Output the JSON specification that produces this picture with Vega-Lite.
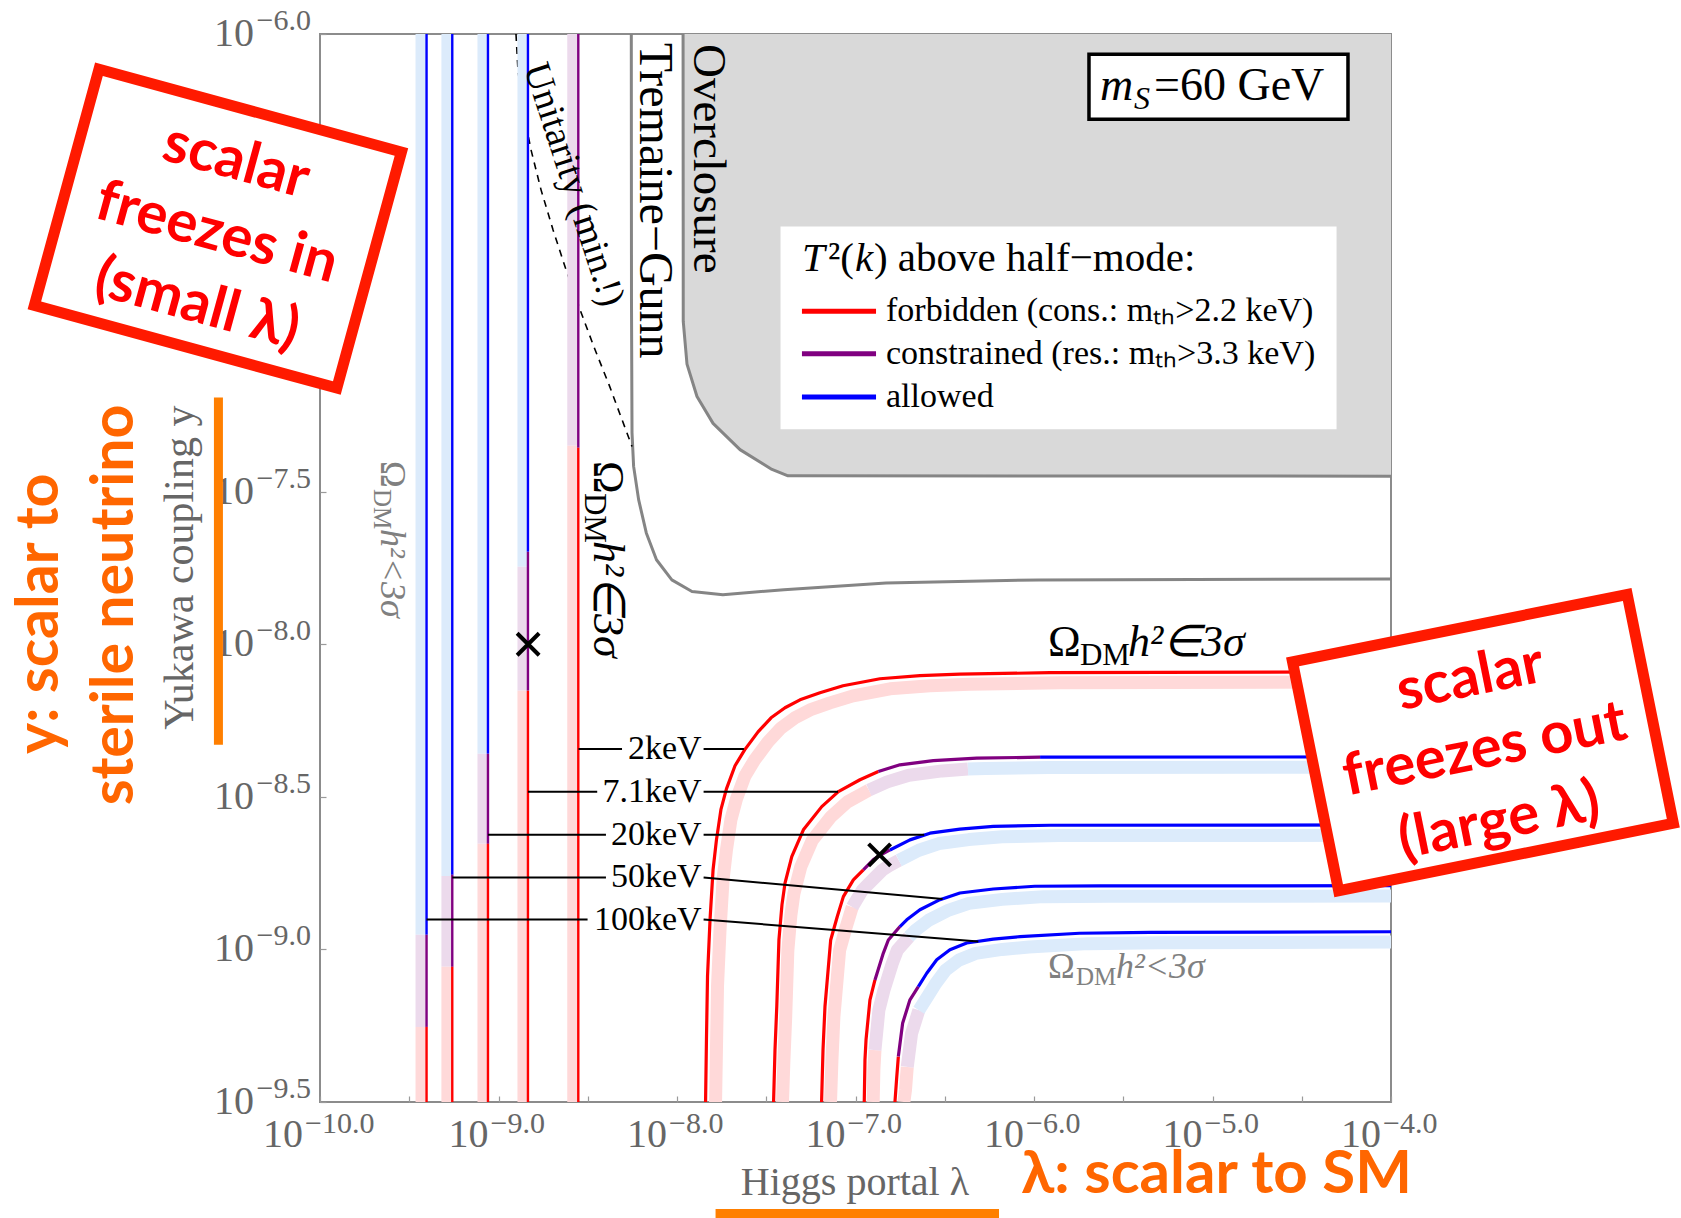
{
  "$schema": "https://vega.github.io/schema/vega-lite/v6.json",
  "width": 1071,
  "height": 1068,
  "autosize": {"type": "none"},
  "padding": {"left": 320, "top": 34, "right": 290, "bottom": 116},
  "background": "white",
  "config": {
    "view": {"stroke": "#8c8c8c", "strokeWidth": 2},
    "text": {"font": "Liberation Serif"}
  },
  "encoding": {
    "x": {
      "field": "lx", "type": "quantitative",
      "scale": {"domain": [-10, -4], "nice": false, "zero": false},
      "axis": {"values": [-10, -9.5, -9, -8.5, -8, -7.5, -7, -6.5, -6, -5.5, -5, -4.5, -4], "labels": false, "title": null, "domain": false, "grid": false, "tickSize": -6, "tickColor": "#9a9a9a", "tickWidth": 1.2}
    },
    "y": {
      "field": "ly", "type": "quantitative",
      "scale": {"domain": [-9.5, -6], "nice": false, "zero": false},
      "axis": {"values": [-9.5, -9, -8.5, -8, -7.5, -7, -6.5, -6], "labels": false, "title": null, "domain": false, "grid": false, "tickSize": -6, "tickColor": "#9a9a9a", "tickWidth": 1.2}
    }
  },
  "datasets": {
    "overclosure": [
      {"lx": -7.966, "ly": -6.0}, {"lx": -7.965, "ly": -6.942}, {"lx": -7.944, "ly": -7.082},
      {"lx": -7.888, "ly": -7.188}, {"lx": -7.798, "ly": -7.276}, {"lx": -7.647, "ly": -7.362},
      {"lx": -7.468, "ly": -7.427}, {"lx": -7.378, "ly": -7.448}, {"lx": -4.0, "ly": -7.449}
    ],
    "tremaine_gunn": [
      {"lx": -8.256, "ly": -6.0}, {"lx": -8.255, "ly": -6.871}, {"lx": -8.252, "ly": -7.307},
      {"lx": -8.243, "ly": -7.417}, {"lx": -8.215, "ly": -7.526}, {"lx": -8.172, "ly": -7.635},
      {"lx": -8.115, "ly": -7.723}, {"lx": -8.029, "ly": -7.789}, {"lx": -7.916, "ly": -7.827},
      {"lx": -7.743, "ly": -7.838}, {"lx": -7.401, "ly": -7.821}, {"lx": -6.829, "ly": -7.799},
      {"lx": -5.972, "ly": -7.789}, {"lx": -4.0, "ly": -7.786}
    ],
    "unitarity": [
      {"lx": -8.902, "ly": -6.0}, {"lx": -8.891, "ly": -6.117}, {"lx": -8.863, "ly": -6.248},
      {"lx": -8.818, "ly": -6.379}, {"lx": -8.762, "ly": -6.510}, {"lx": -8.695, "ly": -6.641},
      {"lx": -8.622, "ly": -6.772}, {"lx": -8.543, "ly": -6.904}, {"lx": -8.459, "ly": -7.035},
      {"lx": -8.381, "ly": -7.149}, {"lx": -8.308, "ly": -7.264}, {"lx": -8.252, "ly": -7.352}
    ],
    "freezein_lines": [
      {"m": "100keV", "s": "allowed", "lx": -9.403, "ly": -6.0, "ly2": -8.952},
      {"m": "100keV", "s": "constrained", "lx": -9.403, "ly": -8.952, "ly2": -9.254},
      {"m": "100keV", "s": "forbidden", "lx": -9.403, "ly": -9.254, "ly2": -9.5},
      {"m": "50keV", "s": "allowed", "lx": -9.259, "ly": -6.0, "ly2": -8.755},
      {"m": "50keV", "s": "constrained", "lx": -9.259, "ly": -8.755, "ly2": -9.057},
      {"m": "50keV", "s": "forbidden", "lx": -9.259, "ly": -9.057, "ly2": -9.5},
      {"m": "20keV", "s": "allowed", "lx": -9.059, "ly": -6.0, "ly2": -8.359},
      {"m": "20keV", "s": "constrained", "lx": -9.059, "ly": -8.359, "ly2": -8.654},
      {"m": "20keV", "s": "forbidden", "lx": -9.059, "ly": -8.654, "ly2": -9.5},
      {"m": "7.1keV", "s": "allowed", "lx": -8.835, "ly": -6.0, "ly2": -7.697},
      {"m": "7.1keV", "s": "constrained", "lx": -8.835, "ly": -7.697, "ly2": -8.152},
      {"m": "7.1keV", "s": "forbidden", "lx": -8.835, "ly": -8.152, "ly2": -9.5},
      {"m": "2keV", "s": "constrained", "lx": -8.553, "ly": -6.0, "ly2": -7.356},
      {"m": "2keV", "s": "forbidden", "lx": -8.553, "ly": -7.356, "ly2": -9.5}
    ],
    "freezein_bands": [
      {"m": "100keV", "s": "allowed", "lx": -9.434, "ly": -6.0, "ly2": -8.952},
      {"m": "100keV", "s": "constrained", "lx": -9.434, "ly": -8.952, "ly2": -9.254},
      {"m": "100keV", "s": "forbidden", "lx": -9.434, "ly": -9.254, "ly2": -9.5},
      {"m": "50keV", "s": "allowed", "lx": -9.289, "ly": -6.0, "ly2": -8.759},
      {"m": "50keV", "s": "constrained", "lx": -9.289, "ly": -8.759, "ly2": -9.057},
      {"m": "50keV", "s": "forbidden", "lx": -9.289, "ly": -9.057, "ly2": -9.5},
      {"m": "20keV", "s": "allowed", "lx": -9.087, "ly": -6.0, "ly2": -8.359},
      {"m": "20keV", "s": "constrained", "lx": -9.087, "ly": -8.359, "ly2": -8.654},
      {"m": "20keV", "s": "forbidden", "lx": -9.087, "ly": -8.654, "ly2": -9.5},
      {"m": "7.1keV", "s": "allowed", "lx": -8.863, "ly": -6.0, "ly2": -7.746},
      {"m": "7.1keV", "s": "constrained", "lx": -8.863, "ly": -7.746, "ly2": -8.152},
      {"m": "7.1keV", "s": "forbidden", "lx": -8.863, "ly": -8.152, "ly2": -9.5},
      {"m": "2keV", "s": "constrained", "lx": -8.584, "ly": -6.0, "ly2": -7.349},
      {"m": "2keV", "s": "forbidden", "lx": -8.584, "ly": -7.349, "ly2": -9.5}
    ],
    "freezeout_lines": [
      {"g": "2f", "s": "forbidden", "lx": -7.840, "ly": -9.5},
      {"g": "2f", "s": "forbidden", "lx": -7.835, "ly": -9.296},
      {"g": "2f", "s": "forbidden", "lx": -7.829, "ly": -9.087},
      {"g": "2f", "s": "forbidden", "lx": -7.815, "ly": -8.903},
      {"g": "2f", "s": "forbidden", "lx": -7.798, "ly": -8.739},
      {"g": "2f", "s": "forbidden", "lx": -7.779, "ly": -8.641},
      {"g": "2f", "s": "forbidden", "lx": -7.754, "ly": -8.542},
      {"g": "2f", "s": "forbidden", "lx": -7.723, "ly": -8.474},
      {"g": "2f", "s": "forbidden", "lx": -7.675, "ly": -8.398},
      {"g": "2f", "s": "forbidden", "lx": -7.621, "ly": -8.346},
      {"g": "2f", "s": "forbidden", "lx": -7.546, "ly": -8.287},
      {"g": "2f", "s": "forbidden", "lx": -7.473, "ly": -8.241},
      {"g": "2f", "s": "forbidden", "lx": -7.395, "ly": -8.208},
      {"g": "2f", "s": "forbidden", "lx": -7.311, "ly": -8.182},
      {"g": "2f", "s": "forbidden", "lx": -7.199, "ly": -8.159},
      {"g": "2f", "s": "forbidden", "lx": -7.070, "ly": -8.136},
      {"g": "2f", "s": "forbidden", "lx": -6.863, "ly": -8.113},
      {"g": "2f", "s": "forbidden", "lx": -6.639, "ly": -8.103},
      {"g": "2f", "s": "forbidden", "lx": -6.415, "ly": -8.098},
      {"g": "2f", "s": "forbidden", "lx": -5.910, "ly": -8.093},
      {"g": "2f", "s": "forbidden", "lx": -4.0, "ly": -8.090},
      {"g": "7f", "s": "forbidden", "lx": -7.459, "ly": -9.5},
      {"g": "7f", "s": "forbidden", "lx": -7.451, "ly": -9.329},
      {"g": "7f", "s": "forbidden", "lx": -7.441, "ly": -9.187},
      {"g": "7f", "s": "forbidden", "lx": -7.429, "ly": -8.969},
      {"g": "7f", "s": "forbidden", "lx": -7.412, "ly": -8.854},
      {"g": "7f", "s": "forbidden", "lx": -7.395, "ly": -8.783},
      {"g": "7f", "s": "forbidden", "lx": -7.357, "ly": -8.696},
      {"g": "7f", "s": "forbidden", "lx": -7.292, "ly": -8.608},
      {"g": "7f", "s": "forbidden", "lx": -7.189, "ly": -8.532},
      {"g": "7f", "s": "forbidden", "lx": -7.096, "ly": -8.483},
      {"g": "7f", "s": "forbidden", "lx": -6.975, "ly": -8.444},
      {"g": "7f", "s": "forbidden", "lx": -6.872, "ly": -8.417},
      {"g": "7c", "s": "constrained", "lx": -6.872, "ly": -8.417},
      {"g": "7c", "s": "constrained", "lx": -6.751, "ly": -8.395},
      {"g": "7c", "s": "constrained", "lx": -6.564, "ly": -8.381},
      {"g": "7c", "s": "constrained", "lx": -6.321, "ly": -8.373},
      {"g": "7c", "s": "constrained", "lx": -5.966, "ly": -8.370},
      {"g": "7a", "s": "allowed", "lx": -5.966, "ly": -8.370},
      {"g": "7a", "s": "allowed", "lx": -4.0, "ly": -8.369},
      {"g": "20f", "s": "forbidden", "lx": -7.190, "ly": -9.5},
      {"g": "20f", "s": "forbidden", "lx": -7.182, "ly": -9.329},
      {"g": "20f", "s": "forbidden", "lx": -7.171, "ly": -9.187},
      {"g": "20f", "s": "forbidden", "lx": -7.139, "ly": -8.969},
      {"g": "20f", "s": "forbidden", "lx": -7.102, "ly": -8.892},
      {"g": "20f", "s": "forbidden", "lx": -7.068, "ly": -8.827},
      {"g": "20f", "s": "forbidden", "lx": -7.012, "ly": -8.772},
      {"g": "20f", "s": "forbidden", "lx": -6.956, "ly": -8.739},
      {"g": "20c", "s": "constrained", "lx": -6.956, "ly": -8.739},
      {"g": "20c", "s": "constrained", "lx": -6.900, "ly": -8.706},
      {"g": "20c", "s": "constrained", "lx": -6.863, "ly": -8.692},
      {"g": "20c", "s": "constrained", "lx": -6.807, "ly": -8.674},
      {"g": "20a", "s": "allowed", "lx": -6.807, "ly": -8.674},
      {"g": "20a", "s": "allowed", "lx": -6.695, "ly": -8.641},
      {"g": "20a", "s": "allowed", "lx": -6.583, "ly": -8.619},
      {"g": "20a", "s": "allowed", "lx": -6.415, "ly": -8.606},
      {"g": "20a", "s": "allowed", "lx": -6.228, "ly": -8.597},
      {"g": "20a", "s": "allowed", "lx": -5.910, "ly": -8.593},
      {"g": "20a", "s": "allowed", "lx": -4.0, "ly": -8.592},
      {"g": "50f", "s": "forbidden", "lx": -6.951, "ly": -9.5},
      {"g": "50f", "s": "forbidden", "lx": -6.947, "ly": -9.362},
      {"g": "50f", "s": "forbidden", "lx": -6.941, "ly": -9.296},
      {"g": "50f", "s": "forbidden", "lx": -6.919, "ly": -9.165},
      {"g": "50f", "s": "forbidden", "lx": -6.891, "ly": -9.100},
      {"g": "50c", "s": "constrained", "lx": -6.891, "ly": -9.100},
      {"g": "50c", "s": "constrained", "lx": -6.844, "ly": -9.012},
      {"g": "50c", "s": "constrained", "lx": -6.816, "ly": -8.969},
      {"g": "50c", "s": "constrained", "lx": -6.751, "ly": -8.925},
      {"g": "50a", "s": "allowed", "lx": -6.751, "ly": -8.925},
      {"g": "50a", "s": "allowed", "lx": -6.713, "ly": -8.903},
      {"g": "50a", "s": "allowed", "lx": -6.639, "ly": -8.870},
      {"g": "50a", "s": "allowed", "lx": -6.527, "ly": -8.837},
      {"g": "50a", "s": "allowed", "lx": -6.415, "ly": -8.815},
      {"g": "50a", "s": "allowed", "lx": -6.228, "ly": -8.802},
      {"g": "50a", "s": "allowed", "lx": -5.996, "ly": -8.793},
      {"g": "50a", "s": "allowed", "lx": -5.630, "ly": -8.792},
      {"g": "50a", "s": "allowed", "lx": -4.0, "ly": -8.791},
      {"g": "100f", "s": "forbidden", "lx": -6.779, "ly": -9.5},
      {"g": "100f", "s": "forbidden", "lx": -6.770, "ly": -9.427},
      {"g": "100f", "s": "forbidden", "lx": -6.760, "ly": -9.351},
      {"g": "100c", "s": "constrained", "lx": -6.760, "ly": -9.351},
      {"g": "100c", "s": "constrained", "lx": -6.736, "ly": -9.242},
      {"g": "100c", "s": "constrained", "lx": -6.695, "ly": -9.165},
      {"g": "100c", "s": "constrained", "lx": -6.648, "ly": -9.122},
      {"g": "100a", "s": "allowed", "lx": -6.648, "ly": -9.122},
      {"g": "100a", "s": "allowed", "lx": -6.601, "ly": -9.078},
      {"g": "100a", "s": "allowed", "lx": -6.545, "ly": -9.034},
      {"g": "100a", "s": "allowed", "lx": -6.471, "ly": -9.001},
      {"g": "100a", "s": "allowed", "lx": -6.377, "ly": -8.979},
      {"g": "100a", "s": "allowed", "lx": -6.228, "ly": -8.966},
      {"g": "100a", "s": "allowed", "lx": -6.078, "ly": -8.958},
      {"g": "100a", "s": "allowed", "lx": -5.745, "ly": -8.947},
      {"g": "100a", "s": "allowed", "lx": -5.350, "ly": -8.944},
      {"g": "100a", "s": "allowed", "lx": -4.0, "ly": -8.942}
    ],
    "freezeout_bands": [
      {"g": "2f", "s": "forbidden", "lx": -7.784, "ly": -9.5},
      {"g": "2f", "s": "forbidden", "lx": -7.779, "ly": -9.329},
      {"g": "2f", "s": "forbidden", "lx": -7.773, "ly": -9.120},
      {"g": "2f", "s": "forbidden", "lx": -7.759, "ly": -8.936},
      {"g": "2f", "s": "forbidden", "lx": -7.742, "ly": -8.772},
      {"g": "2f", "s": "forbidden", "lx": -7.723, "ly": -8.674},
      {"g": "2f", "s": "forbidden", "lx": -7.698, "ly": -8.575},
      {"g": "2f", "s": "forbidden", "lx": -7.667, "ly": -8.507},
      {"g": "2f", "s": "forbidden", "lx": -7.619, "ly": -8.431},
      {"g": "2f", "s": "forbidden", "lx": -7.565, "ly": -8.379},
      {"g": "2f", "s": "forbidden", "lx": -7.490, "ly": -8.320},
      {"g": "2f", "s": "forbidden", "lx": -7.417, "ly": -8.274},
      {"g": "2f", "s": "forbidden", "lx": -7.339, "ly": -8.241},
      {"g": "2f", "s": "forbidden", "lx": -7.255, "ly": -8.215},
      {"g": "2f", "s": "forbidden", "lx": -7.143, "ly": -8.192},
      {"g": "2f", "s": "forbidden", "lx": -7.014, "ly": -8.169},
      {"g": "2f", "s": "forbidden", "lx": -6.807, "ly": -8.146},
      {"g": "2f", "s": "forbidden", "lx": -6.583, "ly": -8.136},
      {"g": "2f", "s": "forbidden", "lx": -6.359, "ly": -8.131},
      {"g": "2f", "s": "forbidden", "lx": -5.854, "ly": -8.126},
      {"g": "2f", "s": "forbidden", "lx": -4.0, "ly": -8.123},
      {"g": "7f", "s": "forbidden", "lx": -7.409, "ly": -9.5},
      {"g": "7f", "s": "forbidden", "lx": -7.401, "ly": -9.363},
      {"g": "7f", "s": "forbidden", "lx": -7.391, "ly": -9.221},
      {"g": "7f", "s": "forbidden", "lx": -7.379, "ly": -9.003},
      {"g": "7f", "s": "forbidden", "lx": -7.362, "ly": -8.888},
      {"g": "7f", "s": "forbidden", "lx": -7.345, "ly": -8.817},
      {"g": "7f", "s": "forbidden", "lx": -7.307, "ly": -8.730},
      {"g": "7f", "s": "forbidden", "lx": -7.242, "ly": -8.642},
      {"g": "7f", "s": "forbidden", "lx": -7.139, "ly": -8.566},
      {"g": "7f", "s": "forbidden", "lx": -7.046, "ly": -8.517},
      {"g": "7f", "s": "forbidden", "lx": -6.925, "ly": -8.478},
      {"g": "7c", "s": "constrained", "lx": -6.925, "ly": -8.478},
      {"g": "7c", "s": "constrained", "lx": -6.822, "ly": -8.451},
      {"g": "7c", "s": "constrained", "lx": -6.701, "ly": -8.429},
      {"g": "7c", "s": "constrained", "lx": -6.514, "ly": -8.415},
      {"g": "7c", "s": "constrained", "lx": -6.370, "ly": -8.409},
      {"g": "7a", "s": "allowed", "lx": -6.370, "ly": -8.409},
      {"g": "7a", "s": "allowed", "lx": -6.271, "ly": -8.407},
      {"g": "7a", "s": "allowed", "lx": -5.916, "ly": -8.404},
      {"g": "7a", "s": "allowed", "lx": -4.0, "ly": -8.403},
      {"g": "20f", "s": "forbidden", "lx": -7.140, "ly": -9.5},
      {"g": "20f", "s": "forbidden", "lx": -7.132, "ly": -9.363},
      {"g": "20f", "s": "forbidden", "lx": -7.121, "ly": -9.221},
      {"g": "20f", "s": "forbidden", "lx": -7.089, "ly": -9.003},
      {"g": "20f", "s": "forbidden", "lx": -7.052, "ly": -8.926},
      {"g": "20f", "s": "forbidden", "lx": -7.018, "ly": -8.861},
      {"g": "20c", "s": "constrained", "lx": -7.018, "ly": -8.861},
      {"g": "20c", "s": "constrained", "lx": -6.962, "ly": -8.806},
      {"g": "20c", "s": "constrained", "lx": -6.906, "ly": -8.773},
      {"g": "20c", "s": "constrained", "lx": -6.850, "ly": -8.740},
      {"g": "20c", "s": "constrained", "lx": -6.813, "ly": -8.726},
      {"g": "20c", "s": "constrained", "lx": -6.757, "ly": -8.708},
      {"g": "20a", "s": "allowed", "lx": -6.757, "ly": -8.708},
      {"g": "20a", "s": "allowed", "lx": -6.645, "ly": -8.675},
      {"g": "20a", "s": "allowed", "lx": -6.533, "ly": -8.653},
      {"g": "20a", "s": "allowed", "lx": -6.365, "ly": -8.640},
      {"g": "20a", "s": "allowed", "lx": -6.178, "ly": -8.631},
      {"g": "20a", "s": "allowed", "lx": -5.860, "ly": -8.627},
      {"g": "20a", "s": "allowed", "lx": -4.0, "ly": -8.626},
      {"g": "50f", "s": "forbidden", "lx": -6.901, "ly": -9.5},
      {"g": "50f", "s": "forbidden", "lx": -6.897, "ly": -9.396},
      {"g": "50f", "s": "forbidden", "lx": -6.891, "ly": -9.330},
      {"g": "50c", "s": "constrained", "lx": -6.891, "ly": -9.330},
      {"g": "50c", "s": "constrained", "lx": -6.869, "ly": -9.199},
      {"g": "50c", "s": "constrained", "lx": -6.841, "ly": -9.134},
      {"g": "50c", "s": "constrained", "lx": -6.794, "ly": -9.046},
      {"g": "50c", "s": "constrained", "lx": -6.766, "ly": -9.003},
      {"g": "50c", "s": "constrained", "lx": -6.701, "ly": -8.959},
      {"g": "50a", "s": "allowed", "lx": -6.701, "ly": -8.959},
      {"g": "50a", "s": "allowed", "lx": -6.663, "ly": -8.937},
      {"g": "50a", "s": "allowed", "lx": -6.589, "ly": -8.904},
      {"g": "50a", "s": "allowed", "lx": -6.477, "ly": -8.871},
      {"g": "50a", "s": "allowed", "lx": -6.365, "ly": -8.849},
      {"g": "50a", "s": "allowed", "lx": -6.178, "ly": -8.836},
      {"g": "50a", "s": "allowed", "lx": -5.946, "ly": -8.827},
      {"g": "50a", "s": "allowed", "lx": -5.580, "ly": -8.826},
      {"g": "50a", "s": "allowed", "lx": -4.0, "ly": -8.825},
      {"g": "100f", "s": "forbidden", "lx": -6.729, "ly": -9.5},
      {"g": "100f", "s": "forbidden", "lx": -6.720, "ly": -9.461},
      {"g": "100f", "s": "forbidden", "lx": -6.710, "ly": -9.385},
      {"g": "100c", "s": "constrained", "lx": -6.710, "ly": -9.385},
      {"g": "100c", "s": "constrained", "lx": -6.686, "ly": -9.276},
      {"g": "100c", "s": "constrained", "lx": -6.645, "ly": -9.199},
      {"g": "100a", "s": "allowed", "lx": -6.645, "ly": -9.199},
      {"g": "100a", "s": "allowed", "lx": -6.598, "ly": -9.156},
      {"g": "100a", "s": "allowed", "lx": -6.551, "ly": -9.112},
      {"g": "100a", "s": "allowed", "lx": -6.495, "ly": -9.068},
      {"g": "100a", "s": "allowed", "lx": -6.421, "ly": -9.035},
      {"g": "100a", "s": "allowed", "lx": -6.327, "ly": -9.013},
      {"g": "100a", "s": "allowed", "lx": -6.178, "ly": -9.000},
      {"g": "100a", "s": "allowed", "lx": -6.028, "ly": -8.992},
      {"g": "100a", "s": "allowed", "lx": -5.695, "ly": -8.981},
      {"g": "100a", "s": "allowed", "lx": -5.300, "ly": -8.978},
      {"g": "100a", "s": "allowed", "lx": -4.0, "ly": -8.976}
    ],
    "connectors": [
      {"lx": -8.552, "ly": -8.343, "lx2": -8.308, "ly2": -8.343},
      {"lx": -7.851, "ly": -8.343, "lx2": -7.625, "ly2": -8.343},
      {"lx": -8.835, "ly": -8.483, "lx2": -8.447, "ly2": -8.483},
      {"lx": -7.851, "ly": -8.483, "lx2": -7.098, "ly2": -8.483},
      {"lx": -9.059, "ly": -8.624, "lx2": -8.398, "ly2": -8.624},
      {"lx": -7.851, "ly": -8.624, "lx2": -6.615, "ly2": -8.624},
      {"lx": -9.259, "ly": -8.764, "lx2": -8.398, "ly2": -8.764},
      {"lx": -7.851, "ly": -8.764, "lx2": -6.512, "ly2": -8.835},
      {"lx": -9.403, "ly": -8.902, "lx2": -8.501, "ly2": -8.902},
      {"lx": -7.851, "ly": -8.902, "lx2": -6.312, "ly2": -8.974}
    ],
    "mass_labels": [
      {"t": "2keV", "lx": -7.862, "ly": -8.343},
      {"t": "7.1keV", "lx": -7.862, "ly": -8.483},
      {"t": "20keV", "lx": -7.862, "ly": -8.624},
      {"t": "50keV", "lx": -7.862, "ly": -8.764},
      {"t": "100keV", "lx": -7.862, "ly": -8.902}
    ],
    "benchmarks": [
      {"lx": -8.834, "ly": -8.0},
      {"lx": -6.865, "ly": -8.69}
    ],
    "yticks": [
      {"lx": -10, "ly": -6.0, "e": "−6.0"}, {"lx": -10, "ly": -6.5, "e": "−6.5"},
      {"lx": -10, "ly": -7.0, "e": "−7.0"}, {"lx": -10, "ly": -7.5, "e": "−7.5"},
      {"lx": -10, "ly": -8.0, "e": "−8.0"}, {"lx": -10, "ly": -8.5, "e": "−8.5"},
      {"lx": -10, "ly": -9.0, "e": "−9.0"}, {"lx": -10, "ly": -9.5, "e": "−9.5"}
    ],
    "xticks": [
      {"lx": -9, "ly": -9.5, "e": "−9.0"}, {"lx": -8, "ly": -9.5, "e": "−8.0"},
      {"lx": -7, "ly": -9.5, "e": "−7.0"}, {"lx": -6, "ly": -9.5, "e": "−6.0"},
      {"lx": -5, "ly": -9.5, "e": "−5.0"}, {"lx": -4, "ly": -9.5, "e": "−4.0"}
    ],
    "legend_entries": [
      {"s": "forbidden", "lx": -7.300, "lx2": -6.885, "ly": -6.909, "tx": -6.829, "t": "forbidden (cons.: mₜₕ>2.2 keV)"},
      {"s": "constrained", "lx": -7.300, "lx2": -6.885, "ly": -7.048, "tx": -6.829, "t": "constrained (res.: mₜₕ>3.3 keV)"},
      {"s": "allowed", "lx": -7.300, "lx2": -6.885, "ly": -7.190, "tx": -6.829, "t": "allowed"}
    ]
  },
  "layer": [
    {"data": {"name": "overclosure"}, "mark": {"type": "area", "color": "#d9d9d9", "clip": true}, "encoding": {"y2": {"datum": -6}}},
    {"data": {"name": "overclosure"}, "mark": {"type": "line", "color": "#858585", "strokeWidth": 3, "clip": true, "strokeJoin": "round"}, "encoding": {"order": {"value": null}}},
    {"data": {"name": "tremaine_gunn"}, "mark": {"type": "line", "color": "#858585", "strokeWidth": 3, "clip": true, "strokeJoin": "round"}, "encoding": {"order": {"value": null}}},
    {"data": {"name": "unitarity"}, "mark": {"type": "line", "color": "black", "strokeWidth": 1.6, "strokeDash": [7, 6], "clip": true}, "encoding": {"order": {"value": null}}},
    {
      "data": {"name": "freezein_bands"},
      "mark": {"type": "rule", "strokeWidth": 11},
      "encoding": {
        "y2": {"field": "ly2"},
        "color": {"field": "s", "type": "nominal", "scale": {"domain": ["forbidden", "constrained", "allowed"], "range": ["#ffd9d9", "#ecdaec", "#dcebfb"]}, "legend": null}
      }
    },
    {
      "data": {"name": "freezeout_bands"},
      "mark": {"type": "line", "strokeWidth": 13, "clip": true, "strokeJoin": "round"},
      "encoding": {
        "detail": {"field": "g"},
        "order": {"value": null},
        "color": {"field": "s", "type": "nominal", "scale": {"domain": ["forbidden", "constrained", "allowed"], "range": ["#ffd9d9", "#ecdaec", "#dcebfb"]}, "legend": null}
      }
    },
    {
      "data": {"name": "freezein_lines"},
      "mark": {"type": "rule", "strokeWidth": 2.4},
      "encoding": {
        "y2": {"field": "ly2"},
        "stroke": {"field": "s", "type": "nominal", "scale": {"domain": ["forbidden", "constrained", "allowed"], "range": ["#ff0000", "#800080", "#0000ff"]}, "legend": null}
      }
    },
    {
      "data": {"name": "freezeout_lines"},
      "mark": {"type": "line", "strokeWidth": 3.2, "clip": true, "strokeJoin": "round"},
      "encoding": {
        "detail": {"field": "g"},
        "order": {"value": null},
        "stroke": {"field": "s", "type": "nominal", "scale": {"domain": ["forbidden", "constrained", "allowed"], "range": ["#ff0000", "#800080", "#0000ff"]}, "legend": null}
      }
    },
    {"data": {"name": "connectors"}, "mark": {"type": "rule", "color": "black", "strokeWidth": 2}, "encoding": {"x2": {"field": "lx2"}, "y2": {"field": "ly2"}}},
    {"data": {"name": "mass_labels"}, "mark": {"type": "text", "fontSize": 34, "align": "right", "baseline": "middle", "color": "black"}, "encoding": {"text": {"field": "t"}}},
    {"data": {"name": "benchmarks"}, "mark": {"type": "point", "shape": "M-1,-1L1,1M-1,1L1,-1", "size": 484, "filled": false, "stroke": "black", "strokeWidth": 4, "opacity": 1}},

    {"data": {"values": [{"lx": -8.580, "ly": -6.494, "t": "Unitarity (min.!)"}]}, "mark": {"type": "text", "angle": 72, "fontSize": 38, "align": "center", "baseline": "middle", "color": "black"}, "encoding": {"text": {"field": "t"}}},
    {"data": {"values": [{"lx": -8.129, "ly": -6.546, "t": "Tremaine−Gunn"}]}, "mark": {"type": "text", "angle": 90, "fontSize": 48, "align": "center", "baseline": "middle", "color": "black"}, "encoding": {"text": {"field": "t"}}},
    {"data": {"values": [{"lx": -7.829, "ly": -6.409, "t": "Overclosure"}]}, "mark": {"type": "text", "angle": 90, "fontSize": 47, "align": "center", "baseline": "middle", "color": "black"}, "encoding": {"text": {"field": "t"}}},

    {"data": {"values": [{"lx": -8.465, "ly": -7.399}]}, "mark": {"type": "text", "text": "Ω", "angle": 90, "fontSize": 44, "align": "left", "baseline": "alphabetic", "color": "black"}},
    {"data": {"values": [{"lx": -8.465, "ly": -7.399}]}, "mark": {"type": "text", "text": "DM", "angle": 90, "fontSize": 31, "align": "left", "baseline": "alphabetic", "dx": 32, "dy": 9, "color": "black"}},
    {"data": {"values": [{"lx": -8.465, "ly": -7.399}]}, "mark": {"type": "text", "text": "h²∈3σ", "angle": 90, "fontSize": 44, "fontStyle": "italic", "align": "left", "baseline": "alphabetic", "dx": 80, "color": "black"}},

    {"data": {"values": [{"lx": -5.922, "ly": -8.039}]}, "mark": {"type": "text", "text": "Ω", "fontSize": 44, "align": "left", "baseline": "alphabetic", "color": "black"}},
    {"data": {"values": [{"lx": -5.922, "ly": -8.039}]}, "mark": {"type": "text", "text": "DM", "fontSize": 31, "align": "left", "baseline": "alphabetic", "dx": 32, "dy": 9, "color": "black"}},
    {"data": {"values": [{"lx": -5.922, "ly": -8.039}]}, "mark": {"type": "text", "text": "h²∈3σ", "fontSize": 44, "fontStyle": "italic", "align": "left", "baseline": "alphabetic", "dx": 80, "color": "black"}},

    {"data": {"values": [{"lx": -5.922, "ly": -9.094}]}, "mark": {"type": "text", "text": "Ω", "fontSize": 36, "align": "left", "baseline": "alphabetic", "color": "#808080"}},
    {"data": {"values": [{"lx": -5.922, "ly": -9.094}]}, "mark": {"type": "text", "text": "DM", "fontSize": 25, "align": "left", "baseline": "alphabetic", "dx": 28, "dy": 7, "color": "#808080"}},
    {"data": {"values": [{"lx": -5.922, "ly": -9.094}]}, "mark": {"type": "text", "text": "h²<3σ", "fontSize": 36, "fontStyle": "italic", "align": "left", "baseline": "alphabetic", "dx": 68, "color": "#808080"}},

    {"data": {"values": [{"lx": -9.658, "ly": -7.399}]}, "mark": {"type": "text", "text": "Ω", "angle": 90, "fontSize": 36, "align": "left", "baseline": "alphabetic", "color": "#808080"}},
    {"data": {"values": [{"lx": -9.658, "ly": -7.399}]}, "mark": {"type": "text", "text": "DM", "angle": 90, "fontSize": 25, "align": "left", "baseline": "alphabetic", "dx": 28, "dy": 7, "color": "#808080"}},
    {"data": {"values": [{"lx": -9.658, "ly": -7.399}]}, "mark": {"type": "text", "text": "h²<3σ", "angle": 90, "fontSize": 36, "fontStyle": "italic", "align": "left", "baseline": "alphabetic", "dx": 68, "color": "#808080"}},

    {"data": {"values": [{"lx": -7.420, "lx2": -4.305, "ly": -6.631, "ly2": -7.295}]}, "mark": {"type": "rect", "fill": "white"}, "encoding": {"x2": {"field": "lx2"}, "y2": {"field": "ly2"}}},
    {"data": {"values": [{"lx": -7.300, "ly": -6.778}]}, "mark": {"type": "text", "text": "T", "fontSize": 41, "fontStyle": "italic", "align": "left", "baseline": "alphabetic", "color": "black"}},
    {"data": {"values": [{"lx": -7.300, "ly": -6.778}]}, "mark": {"type": "text", "text": "²(", "fontSize": 41, "align": "left", "baseline": "alphabetic", "dx": 26, "color": "black"}},
    {"data": {"values": [{"lx": -7.300, "ly": -6.778}]}, "mark": {"type": "text", "text": "k", "fontSize": 41, "fontStyle": "italic", "align": "left", "baseline": "alphabetic", "dx": 53, "color": "black"}},
    {"data": {"values": [{"lx": -7.300, "ly": -6.778}]}, "mark": {"type": "text", "text": ") above half−mode:", "fontSize": 41, "align": "left", "baseline": "alphabetic", "dx": 72, "color": "black"}},
    {
      "data": {"name": "legend_entries"},
      "mark": {"type": "rule", "strokeWidth": 5},
      "encoding": {
        "x2": {"field": "lx2"},
        "stroke": {"field": "s", "type": "nominal", "scale": {"domain": ["forbidden", "constrained", "allowed"], "range": ["#ff0000", "#800080", "#0000ff"]}, "legend": null}
      }
    },
    {"data": {"name": "legend_entries"}, "mark": {"type": "text", "fontSize": 34, "align": "left", "baseline": "middle", "color": "black"}, "encoding": {"x": {"field": "tx", "type": "quantitative"}, "text": {"field": "t"}}},

    {"data": {"values": [{"lx": -5.692, "lx2": -4.241, "ly": -6.066, "ly2": -6.279}]}, "mark": {"type": "rect", "fill": "white", "stroke": "black", "strokeWidth": 3.5}, "encoding": {"x2": {"field": "lx2"}, "y2": {"field": "ly2"}}},
    {"data": {"values": [{"lx": -5.630, "ly": -6.215}]}, "mark": {"type": "text", "text": "m", "fontSize": 46, "fontStyle": "italic", "align": "left", "baseline": "alphabetic", "color": "black"}},
    {"data": {"values": [{"lx": -5.630, "ly": -6.215}]}, "mark": {"type": "text", "text": "S", "fontSize": 32, "fontStyle": "italic", "align": "left", "baseline": "alphabetic", "dx": 34, "dy": 9, "color": "black"}},
    {"data": {"values": [{"lx": -5.630, "ly": -6.215}]}, "mark": {"type": "text", "text": "=60 GeV", "fontSize": 46, "align": "left", "baseline": "alphabetic", "dx": 54, "color": "black"}},

    {"data": {"name": "yticks"}, "mark": {"type": "text", "text": "10", "fontSize": 40, "align": "right", "baseline": "middle", "dx": -66, "color": "#666666"}},
    {"data": {"name": "yticks"}, "mark": {"type": "text", "fontSize": 30, "align": "right", "baseline": "middle", "dx": -9, "dy": -13, "color": "#666666"}, "encoding": {"text": {"field": "e"}}},
    {"data": {"name": "xticks"}, "mark": {"type": "text", "text": "10", "fontSize": 40, "align": "right", "baseline": "middle", "dx": -10, "dy": 33, "color": "#666666"}},
    {"data": {"name": "xticks"}, "mark": {"type": "text", "fontSize": 30, "align": "left", "baseline": "middle", "dx": -8, "dy": 22, "color": "#666666"}, "encoding": {"text": {"field": "e"}}},
    {"data": {"values": [{"lx": -10, "ly": -9.5, "e": "−10.0"}]}, "mark": {"type": "text", "text": "10", "fontSize": 40, "align": "right", "baseline": "middle", "dx": -17, "dy": 33, "color": "#666666"}},
    {"data": {"values": [{"lx": -10, "ly": -9.5, "e": "−10.0"}]}, "mark": {"type": "text", "fontSize": 30, "align": "left", "baseline": "middle", "dx": -15, "dy": 22, "color": "#666666"}, "encoding": {"text": {"field": "e"}}},

    {"data": {"values": [{"lx": -10.711, "ly": -7.749, "t": "Yukawa coupling y"}]}, "mark": {"type": "text", "angle": -90, "fontSize": 42, "align": "center", "baseline": "alphabetic", "color": "#666666"}, "encoding": {"text": {"field": "t"}}},
    {"data": {"values": [{"lx": -7.003, "ly": -9.806, "t": "Higgs portal λ"}]}, "mark": {"type": "text", "fontSize": 40, "align": "center", "baseline": "alphabetic", "color": "#666666"}, "encoding": {"text": {"field": "t"}}},
    {"data": {"values": [{"lx": -10.569, "lx2": -10.569, "ly": -7.191, "ly2": -8.329}, {"lx": -7.784, "lx2": -6.196, "ly": -9.865, "ly2": -9.865}]}, "mark": {"type": "rule", "color": "#ff7f00", "strokeWidth": 9}, "encoding": {"x2": {"field": "lx2"}, "y2": {"field": "ly2"}}},
    {"data": {"values": [{"t": "y: scalar to", "lx": -11.466, "ly": -7.900}, {"t": "sterile neutrino", "lx": -11.050, "ly": -7.871}]}, "mark": {"type": "text", "angle": -90, "font": "Lato", "fontWeight": "bold", "fontSize": 59, "align": "center", "baseline": "alphabetic", "color": "#ff6600"}, "encoding": {"text": {"field": "t"}}},
    {"data": {"values": [{"t": "λ: scalar to SM", "lx": -6.071, "ly": -9.799}]}, "mark": {"type": "text", "font": "Lato", "fontWeight": "bold", "fontSize": 60, "align": "left", "baseline": "alphabetic", "color": "#ff6600"}, "encoding": {"text": {"field": "t"}}},

    {"data": {"values": [{"lx": -10.572, "ly": -6.638}]}, "mark": {"type": "point", "shape": "M-1.568,-1.224L1.568,-1.224L1.568,1.224L-1.568,1.224Z", "size": 40000, "angle": 15.3, "filled": true, "fill": "white", "stroke": "#ff1a00", "strokeWidth": 11, "strokeJoin": "miter", "opacity": 1}},
    {"data": {"values": [{"lx": -10.470, "ly": -6.420}]}, "mark": {"type": "text", "text": ["scalar", "freezes in", "(small λ)"], "lineHeight": 74, "angle": 15.3, "font": "Lato", "fontWeight": "bold", "fontSize": 58, "align": "center", "baseline": "middle", "color": "#ff0000"}},
    {"data": {"values": [{"lx": -3.485, "ly": -8.322}]}, "mark": {"type": "point", "shape": "M-1.707,-1.167L1.707,-1.167L1.707,1.167L-1.707,1.167Z", "size": 40000, "angle": -11.4, "filled": true, "fill": "white", "stroke": "#ff1a00", "strokeWidth": 11, "strokeJoin": "miter", "opacity": 1}},
    {"data": {"values": [{"lx": -3.555, "ly": -8.113}]}, "mark": {"type": "text", "text": ["scalar", "freezes out", "(large λ)"], "lineHeight": 73, "angle": -11.4, "font": "Lato", "fontWeight": "bold", "fontSize": 58, "align": "center", "baseline": "middle", "color": "#ff0000"}}
  ]
}
